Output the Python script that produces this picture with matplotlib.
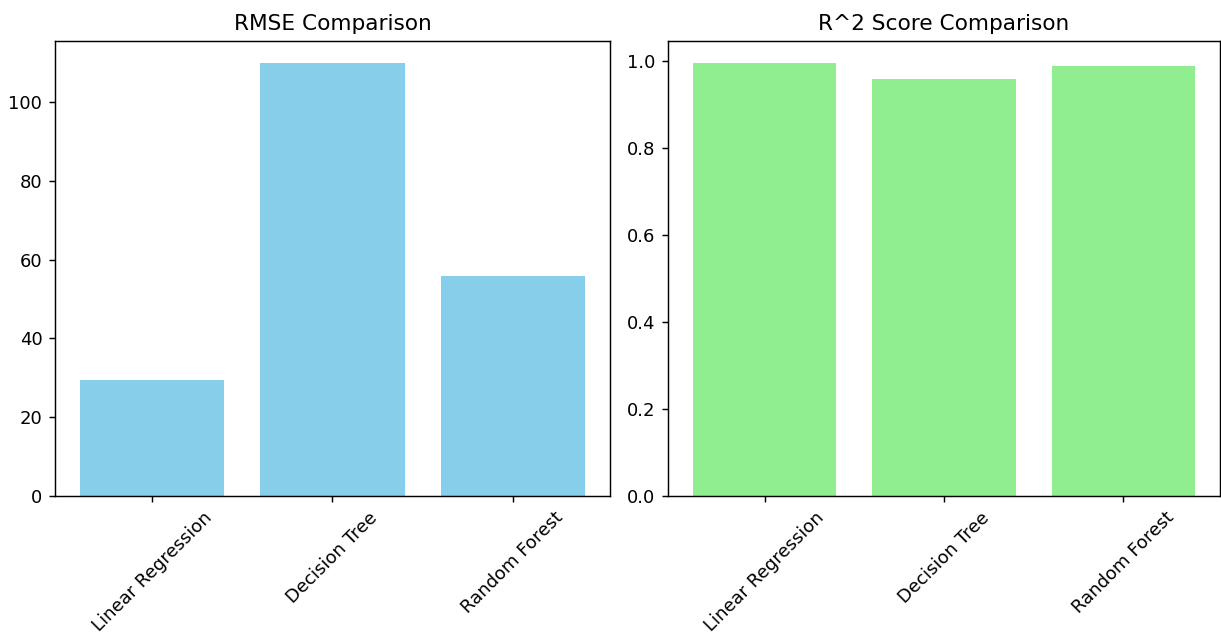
import matplotlib
matplotlib.use("Agg")
import matplotlib.pyplot as plt

models = ["Linear Regression", "Decision Tree", "Random Forest"]
rmse_values = [29.4, 110.0, 55.8]
r2_values = [0.997, 0.959, 0.990]

DPI = 130
fig = plt.figure(figsize=(1221 / DPI, 635 / DPI), dpi=DPI)
W, H = 1221, 635

def ax_at(x0, x1, y0, y1):
    return fig.add_axes([x0 / W, (H - y1) / H, (x1 - x0) / W, (y1 - y0) / H])

ax1 = ax_at(55, 610, 41, 496)
ax2 = ax_at(668, 1220, 41, 496)

ax1.bar(models, rmse_values, color="skyblue")
ax1.set_title("RMSE Comparison")
ax1.tick_params(axis="x", labelrotation=45)

ax2.bar(models, r2_values, color="lightgreen")
ax2.set_title("R^2 Score Comparison")
ax2.tick_params(axis="x", labelrotation=45)

fig.savefig("out.png", dpi=DPI)
